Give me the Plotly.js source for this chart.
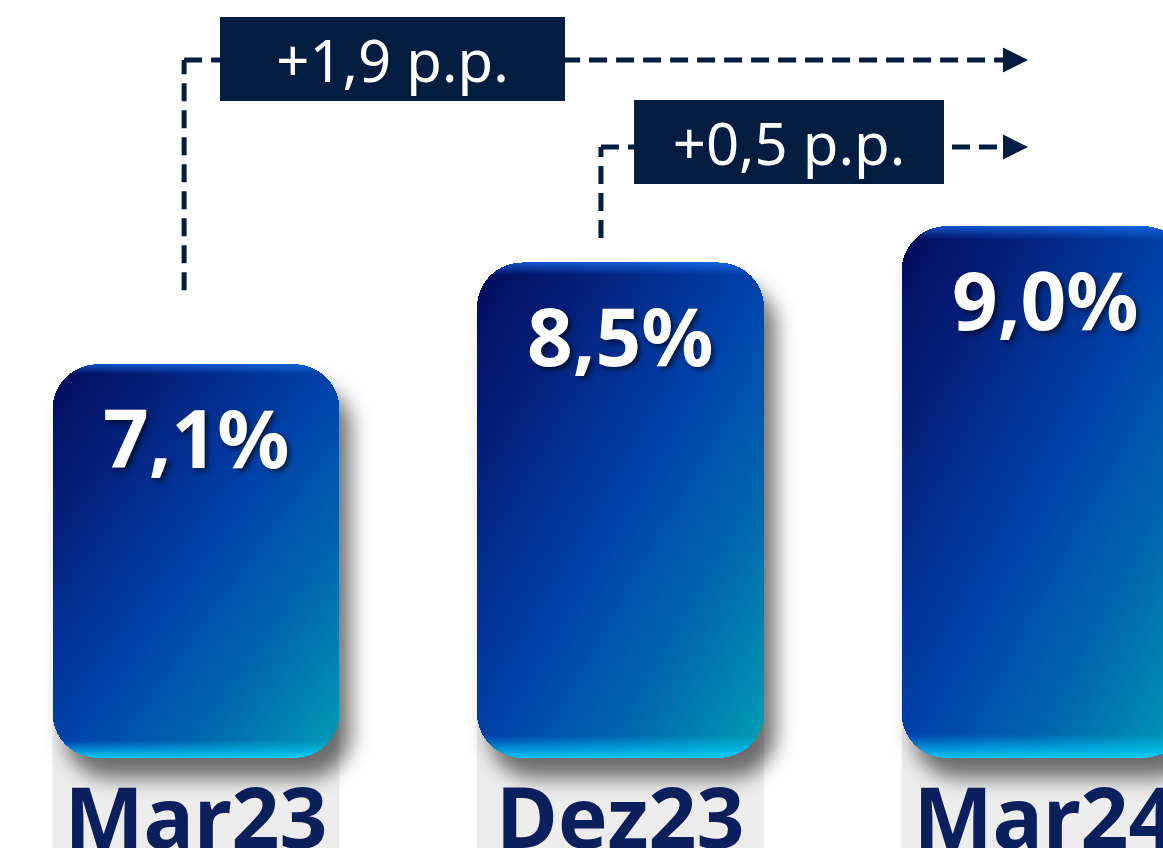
<!DOCTYPE html>
<html>
<head>
<meta charset="utf-8">
<script src="https://cdn.plot.ly/plotly-3.0.1.min.js"></script>
<style>
  html, body { margin: 0; padding: 0; background: #ffffff; overflow: hidden; }
  #chart { width: 1163px; height: 848px; }
</style>
</head>
<body>
<div id="chart"></div>
<script>
// ---- data ----
const categories = ['Mar23', 'Dez23', 'Mar24'];
const values = [7.1, 8.5, 9.0];
// comparisons: [from index, to index]
const comparisons = [[0, 2], [1, 2]];

// ---- styling / layout config ----
const NAVY = '#021d40';
const LABEL_NAVY = '#0b1f5c';
const Y_BASE = 1.687;
const Y_TOP = 12.109;
const BAR_W = 0.676;
const fmt = v => v.toFixed(1).replace('.', ',');

// connector geometry (x in category units, y in paper units)
const connectorGeom = [
  { xs: -0.028, yLow: 0.617, yLine: 0.921, boxX: 0.463, boxY: 0.922, boxW: 345 },
  { xs: 0.954, yLow: 0.686, yLine: 0.806, boxX: 1.397, boxY: 0.813, boxW: 310 }
];
const X_LINE_END = 1.922;
const X_ARROW_TIP = 1.96;

const trace = {
  type: 'bar',
  x: categories,
  y: values.map(v => v - Y_BASE),
  base: Y_BASE,
  width: BAR_W,
  cliponaxis: false,
  marker: { color: '#0040a8', line: { width: 0 }, cornerradius: 45 },
  hoverinfo: 'skip'
};

const shapes = [];
const annotations = [];

// light grey column beneath each bar
categories.forEach((c, i) => {
  shapes.push({
    type: 'rect', layer: 'below', xref: 'x', yref: 'paper',
    x0: i - BAR_W / 2, x1: i + BAR_W / 2, y0: -0.2, y1: 0.1,
    fillcolor: '#ededed', line: { width: 0 }
  });
});

// value labels
categories.forEach((c, i) => {
  annotations.push({
    xref: 'x', yref: 'y', x: i, y: values[i], yanchor: 'top', yshift: -16,
    showarrow: false, text: fmt(values[i]) + '%',
    font: { family: 'Noto Sans', size: 80, color: '#ffffff', weight: 'bold',
            shadow: '3px 3px 5px rgba(0,0,0,0.55)' }
  });
});

// comparison connectors
comparisons.forEach((pair, k) => {
  const g = connectorGeom[k];
  const diff = values[pair[1]] - values[pair[0]];
  const lineStyle = { color: NAVY, width: 5, dash: '18px,9px' };
  shapes.push({ type: 'line', xref: 'x', yref: 'paper', x0: g.xs, x1: g.xs, y0: g.yLow, y1: g.yLine, line: lineStyle });
  shapes.push({ type: 'line', xref: 'x', yref: 'paper', x0: g.xs, x1: X_LINE_END, y0: g.yLine, y1: g.yLine, line: lineStyle });
  annotations.push({
    xref: 'x', yref: 'paper', x: g.boxX, y: g.boxY, xanchor: 'center', yanchor: 'middle', showarrow: false,
    text: '+' + fmt(diff) + ' p.p.',
    bgcolor: NAVY, borderpad: 0, borderwidth: 0, width: g.boxW, height: 84,
    font: { family: 'Noto Sans', size: 58, color: '#ffffff' }
  });
  annotations.push({
    xref: 'x', yref: 'paper', x: X_ARROW_TIP, y: g.yLine, ax: -20, ay: 0,
    showarrow: true, arrowhead: 2, arrowsize: 1.0, arrowwidth: 5, arrowcolor: NAVY, text: ''
  });
});

const layout = {
  width: 1163, height: 848,
  margin: { l: 0, r: 0, t: 0, b: 90 },
  paper_bgcolor: '#ffffff', plot_bgcolor: 'rgba(0,0,0,0)',
  showlegend: false,
  bargap: 0,
  xaxis: {
    type: 'category', range: [-0.4617, 2.278], automargin: false,
    showgrid: false, zeroline: false, showline: false, ticks: '',
    ticklabelstandoff: 5,
    tickfont: { family: 'Noto Sans', size: 84, color: LABEL_NAVY, weight: 'bold' }
  },
  yaxis: {
    range: [Y_BASE, Y_TOP], visible: false, showgrid: false, zeroline: false, automargin: false
  },
  shapes: shapes,
  annotations: annotations
};

Plotly.newPlot('chart', [trace], layout, { staticPlot: true, displayModeBar: false }).then(gd => {
  const svgNS = 'http://www.w3.org/2000/svg';
  const svg = gd.querySelector('svg.main-svg');
  let defs = svg.querySelector('defs');
  function makeGrad(id, x1, y1, x2, y2, stops) {
    const g = document.createElementNS(svgNS, 'linearGradient');
    g.setAttribute('id', id);
    g.setAttribute('x1', x1); g.setAttribute('y1', y1);
    g.setAttribute('x2', x2); g.setAttribute('y2', y2);
    stops.forEach(s => {
      const st = document.createElementNS(svgNS, 'stop');
      st.setAttribute('offset', s[0]);
      st.setAttribute('stop-color', s[1]);
      st.setAttribute('stop-opacity', s[2] === undefined ? 1 : s[2]);
      g.appendChild(st);
    });
    defs.appendChild(g);
  }
  makeGrad('barMain', 0, 0, 1, 1, [[0, '#020a58'], [0.22, '#04217c'], [0.5, '#0042aa'], [0.75, '#006aad'], [1, '#00a0b4']]);
  makeGrad('barHiV', 0, 0, 0, 1, [[0, '#1a78ff', 0.65], [0.025, '#1a78ff', 0], [0.955, '#00c8ff', 0], [1, '#00d4ff', 0.9]]);

  const f = document.createElementNS(svgNS, 'filter');
  f.setAttribute('id', 'barShadow');
  f.setAttribute('x', '-30%'); f.setAttribute('y', '-30%');
  f.setAttribute('width', '160%'); f.setAttribute('height', '160%');
  const blur = document.createElementNS(svgNS, 'feGaussianBlur');
  blur.setAttribute('stdDeviation', '10');
  f.appendChild(blur);
  defs.appendChild(f);

  svg.querySelectorAll('[clip-path]').forEach(el => el.removeAttribute('clip-path'));
  svg.querySelectorAll('*').forEach(el => { if (el.style && el.style.clipPath) el.style.clipPath = ''; });

  const r = 45;
  gd.querySelectorAll('.barlayer .point path').forEach(p => {
    const bb = p.getBBox();
    const x = bb.x, y = bb.y, w = bb.width, h = bb.height;
    const rr = (x0, y0, ww, hh) =>
      `M${x0 + r},${y0}H${x0 + ww - r}A${r},${r} 0 0 1 ${x0 + ww},${y0 + r}` +
      `V${y0 + hh - r}A${r},${r} 0 0 1 ${x0 + ww - r},${y0 + hh}` +
      `H${x0 + r}A${r},${r} 0 0 1 ${x0},${y0 + hh - r}` +
      `V${y0 + r}A${r},${r} 0 0 1 ${x0 + r},${y0}Z`;
    const sh = document.createElementNS(svgNS, 'path');
    sh.setAttribute('d', rr(x + 12, y + 20, w, h));
    sh.setAttribute('fill', 'rgba(0,0,0,0.55)');
    sh.setAttribute('filter', 'url(#barShadow)');
    p.parentNode.insertBefore(sh, p);
    p.setAttribute('d', rr(x, y, w, h));
    p.style.fill = 'url(#barMain)';
    const ov = p.cloneNode(true);
    ov.style.fill = 'url(#barHiV)';
    p.parentNode.appendChild(ov);
  });
});
</script>
</body>
</html>
